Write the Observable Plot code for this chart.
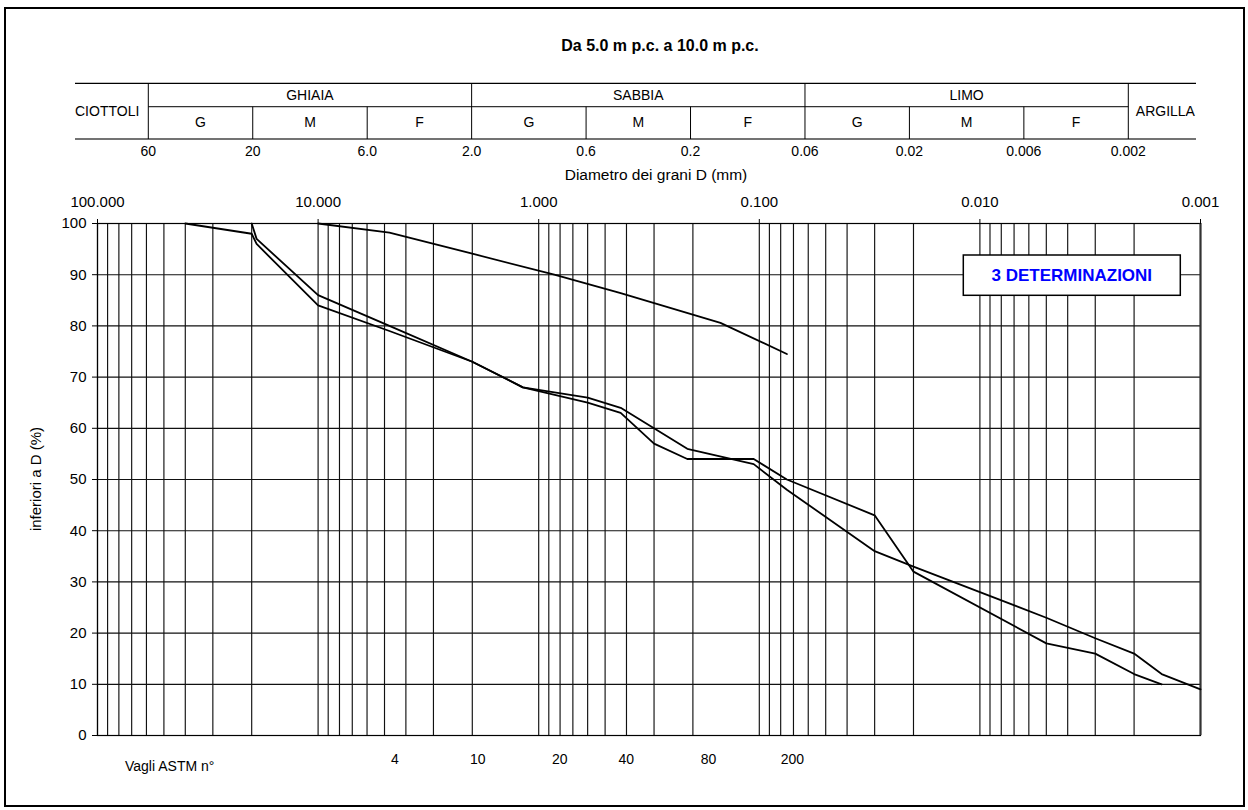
<!DOCTYPE html>
<html><head><meta charset="utf-8">
<script src="https://cdn.jsdelivr.net/npm/d3@7"></script>
<script src="https://cdn.jsdelivr.net/npm/@observablehq/plot@0.6"></script>
<style>
html,body{margin:0;padding:0;background:#fff;}
#chart{position:relative;width:1248px;height:810px;}
svg{display:block}
</style></head><body><div id="chart"></div>
<script>
// ---- data ----
const sizesA = [10, 4.75, 2.0, 0.85, 0.425, 0.15, 0.075];
const passA  = [100, 98.2, 94.1, 90.0, 86.4, 80.6, 74.5];
const sizesB = [40, 20, 19, 10, 4.75, 2.0, 1.18, 0.6, 0.425, 0.3, 0.212, 0.106, 0.075, 0.03, 0.02, 0.005, 0.003, 0.002, 0.0015];
const passB  = [100, 98, 96, 84, 79, 73, 68, 65, 63, 57, 54, 54, 50, 43, 32, 18, 16, 12, 10];
const sizesC = [20, 19, 10, 4.75, 2.0, 1.18, 0.6, 0.425, 0.212, 0.106, 0.075, 0.03, 0.02, 0.01, 0.005, 0.003, 0.002, 0.0015, 0.001];
const passC  = [100, 97, 86, 80, 73, 68, 66, 64, 56, 53, 48, 36, 33, 28, 23, 19, 16, 12, 9];

const topTicks = [100, 10, 1, 0.1, 0.01, 0.001];
const yTicks = [0, 10, 20, 30, 40, 50, 60, 70, 80, 90, 100];
const sieveNumbers = ["4", "10", "20", "40", "80", "200"];
const sieveSizes = [4.75, 2.0, 0.85, 0.425, 0.18, 0.075];

const classNames = ["GHIAIA", "SABBIA", "LIMO"];
const classLimits = [[60, 20, 6, 2], [2, 0.6, 0.2, 0.06], [0.06, 0.02, 0.006, 0.002]];
const subNames = ["G", "M", "F"];
const boundaries = [60, 20, 6, 2, 0.6, 0.2, 0.06, 0.02, 0.006, 0.002];
const boundaryLabels = ["60", "20", "6.0", "2.0", "0.6", "0.2", "0.06", "0.02", "0.006", "0.002"];
const majorBoundaries = [60, 2, 0.06, 0.002];

const titleText = "Da 5.0 m p.c. a 10.0 m p.c.";
const xTitle = "Diametro dei grani D (mm)";
const yTitle = "inferiori a D (%)";
const boxText = "3 DETERMINAZIONI";

// ---- build ----
const rows = [
  ...sizesA.map((d, i) => ({s: "A", d, p: passA[i]})),
  ...sizesB.map((d, i) => ({s: "B", d, p: passB[i]})),
  ...sizesC.map((d, i) => ({s: "C", d, p: passC[i]}))
];
const grid = [];
for (let e = -3; e <= 1; e++) for (let m = 1; m <= 9; m++) grid.push(+(m * Math.pow(10, e)).toPrecision(3));
grid.push(100);

const FONT = "'Liberation Sans', Arial, Helvetica, sans-serif";
const chart = Plot.plot({
  width: 1248, height: 810,
  marginLeft: 97, marginRight: 48, marginTop: 223, marginBottom: 75,
  x: {type: "log", domain: [100, 0.001]},
  y: {domain: [0, 100]},
  style: {fontFamily: FONT, fontSize: "15px", color: "#000", background: "#fff", overflow: "visible"},
  marks: [
    Plot.ruleX(grid, {x: d => d, y1: 0, y2: 100, stroke: "#111", strokeWidth: 1.15}),
    Plot.ruleY(yTicks, {y: d => d, x1: 100, x2: 0.001, stroke: "#111", strokeWidth: 1.15}),
    Plot.frame({stroke: "#000", strokeWidth: 1.2}),
    Plot.ruleX([0.001], {y1: 0, y2: 100, stroke: "#333", strokeWidth: 2}),
    Plot.axisY({ticks: yTicks, tickSize: 5, tickPadding: 6, label: null, fontSize: 15, tickFormat: d => String(d)}),
    Plot.axisX({anchor: "top", ticks: topTicks, tickSize: 5, tickPadding: 12, label: null, fontSize: 15, tickFormat: d3.format(".3f")}),
    Plot.line(rows, {x: "d", y: "p", z: "s", stroke: "#000", strokeWidth: 1.8, strokeLinejoin: "miter"})
  ]
});
document.getElementById("chart").appendChild(chart);

const X = chart.scale("x");
const svg = d3.select(chart);
const T = Plot.scale({x: {type: "log", domain: [60, 0.002], range: [148.3, 1128.3]}});
const tx = v => T.apply(v);

// outer border
svg.append("rect").attr("x", 5).attr("y", 8).attr("width", 1239).attr("height", 798)
  .attr("fill", "none").attr("stroke", "#000").attr("stroke-width", 2);

const g = svg.append("g").attr("font-family", FONT).attr("fill", "#000");
function txt(s, x, y, size, anchor, weight) {
  return g.append("text").attr("x", x).attr("y", y).attr("font-size", size)
    .attr("text-anchor", anchor || "middle").attr("dominant-baseline", "central")
    .attr("font-weight", weight || "normal").text(s);
}

// title
txt(titleText, 660, 45, 16, "middle", "bold");

// classification table
const tL = 75, tR = 1196, yTop = 83.3, yMid = 106.7, yBot = 139;
const lines = g.append("g").attr("stroke", "#000");
lines.append("line").attr("x1", tL).attr("x2", tR).attr("y1", yTop).attr("y2", yTop).attr("stroke-width", 1.3);
lines.append("line").attr("x1", tx(60)).attr("x2", tx(0.002)).attr("y1", yMid).attr("y2", yMid).attr("stroke-width", 1.3).attr("stroke", "#333");
lines.append("line").attr("x1", tL).attr("x2", tR).attr("y1", yBot).attr("y2", yBot).attr("stroke-width", 1.6).attr("stroke", "#444");
boundaries.forEach(b => {
  const major = majorBoundaries.includes(b);
  lines.append("line").attr("x1", tx(b)).attr("x2", tx(b))
    .attr("y1", major ? yTop : yMid).attr("y2", yBot).attr("stroke-width", 1);
});
classNames.forEach((n, i) => {
  const lim = classLimits[i];
  txt(n, (tx(lim[0]) + tx(lim[3])) / 2, 94.8, 14);
  subNames.forEach((s, j) => txt(s, (tx(lim[j]) + tx(lim[j + 1])) / 2, 122, 14));
});
txt("CIOTTOLI", tL, 111, 14, "start");
txt("ARGILLA", tx(0.002) + 7.5, 111, 14, "start");
boundaries.forEach((b, i) => txt(boundaryLabels[i], tx(b), 150.5, 14));
txt(xTitle, 656, 174, 15.5);

// y title
g.append("text").attr("transform", "translate(35,479) rotate(-90)")
  .attr("font-size", 15).attr("text-anchor", "middle").attr("dominant-baseline", "central").text(yTitle);

// sieves
txt("Vagli ASTM n°", 125, 766, 14, "start");
sieveSizes.forEach((s, i) => txt(sieveNumbers[i], X.apply(s) + 6, 758.5, 14));

// annotation box (drawn last so the text sits above it)
const box = svg.append("g").attr("font-family", FONT);
box.append("rect").attr("x", 963.3).attr("y", 255).attr("width", 217).attr("height", 40.3)
  .attr("fill", "#fff").attr("stroke", "#000").attr("stroke-width", 1.5);
box.append("text").attr("x", 1071.8).attr("y", 275.5).attr("font-size", 17).attr("font-weight", "bold")
  .attr("text-anchor", "middle").attr("dominant-baseline", "central").attr("fill", "#0000ff").text(boxText);
</script></body></html>
